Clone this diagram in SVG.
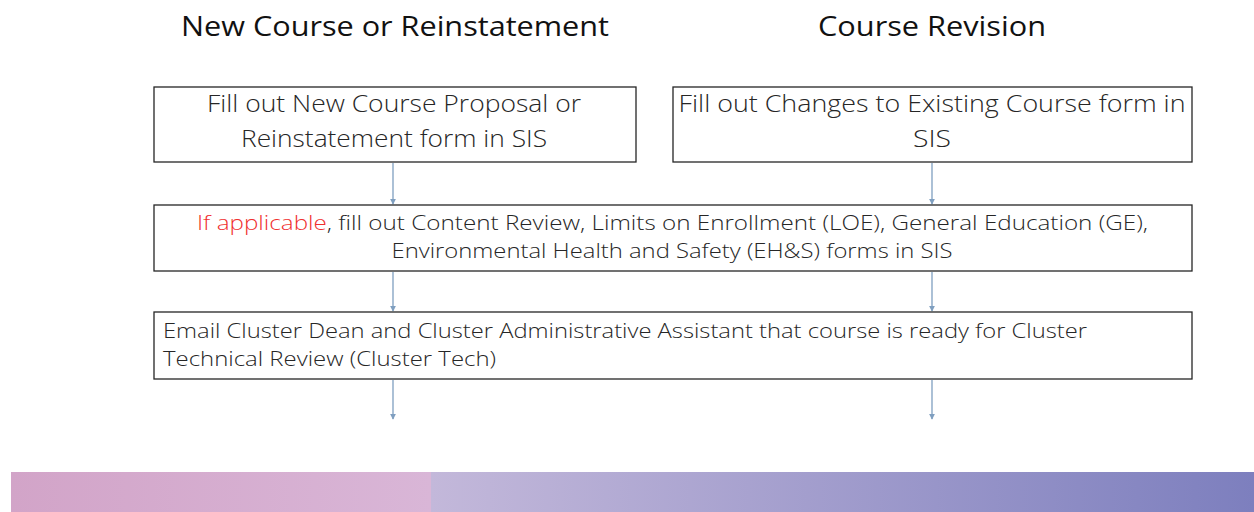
<svg xmlns="http://www.w3.org/2000/svg" width="1254" height="512" viewBox="0 0 1254 512">
<style>
.box{fill:#fff;stroke:#262626;stroke-width:1.3}
.t{font-family:"Open Sans","Liberation Sans",sans-serif;font-weight:300;fill:#262626}
.h{font-family:"Open Sans","Liberation Sans",sans-serif;font-size:28px;fill:#111}
.c{stroke:#7f9fc0;stroke-width:1.3;fill:none;marker-end:url(#ah)}
.red{fill:#f03030}
</style>
<defs>
<marker id="ah" viewBox="0 0 8 8" refX="7" refY="4" markerWidth="6" markerHeight="6" markerUnits="userSpaceOnUse" orient="auto">
<path d="M0,0 L8,4 L0,8 Z" fill="#7f9fc0"/>
</marker>
<linearGradient id="g1" x1="0" y1="0" x2="1" y2="0">
<stop offset="0" stop-color="#d2a4c8"/>
<stop offset="1" stop-color="#d9b6d7"/>
</linearGradient>
<linearGradient id="g2" x1="0" y1="0" x2="1" y2="0">
<stop offset="0" stop-color="#c3b8da"/>
<stop offset="1" stop-color="#7d7fbe"/>
</linearGradient>
</defs>
<rect width="1254" height="512" fill="#fff"/>
<text class="h" x="395" y="36" text-anchor="middle" textLength="428" lengthAdjust="spacingAndGlyphs">New Course or Reinstatement</text>
<text class="h" x="932" y="36" text-anchor="middle" textLength="228" lengthAdjust="spacingAndGlyphs">Course Revision</text>
<g id="connectors">
<path class="c" d="M393,163 V204"/>
<path class="c" d="M932,163 V204"/>
<path class="c" d="M393,272 V311"/>
<path class="c" d="M932,272 V311"/>
<path class="c" d="M393,380 V419"/>
<path class="c" d="M932,380 V419"/>
</g>
<g id="n1">
<rect class="box" x="154" y="87" width="482" height="75"/>
<text class="t" font-size="23" x="394" y="112" text-anchor="middle" textLength="374" lengthAdjust="spacingAndGlyphs">Fill out New Course Proposal or</text>
<text class="t" font-size="23" x="394" y="147" text-anchor="middle" textLength="306" lengthAdjust="spacingAndGlyphs">Reinstatement form in SIS</text>
</g>
<g id="n2">
<rect class="box" x="673" y="87" width="519" height="75"/>
<text class="t" font-size="23" x="932" y="112" text-anchor="middle" textLength="507" lengthAdjust="spacingAndGlyphs">Fill out Changes to Existing Course form in</text>
<text class="t" font-size="23" x="932" y="147" text-anchor="middle" textLength="38" lengthAdjust="spacingAndGlyphs">SIS</text>
</g>
<g id="n3">
<rect class="box" x="154" y="205" width="1038" height="66"/>
<text class="t" font-size="20" x="197" y="230" textLength="951" lengthAdjust="spacingAndGlyphs"><tspan class="red">If applicable</tspan>, fill out Content Review, Limits on Enrollment (LOE), General Education (GE),</text>
<text class="t" font-size="20" x="672" y="258" text-anchor="middle" textLength="561" lengthAdjust="spacingAndGlyphs">Environmental Health and Safety (EH&amp;S) forms in SIS</text>
</g>
<g id="n4">
<rect class="box" x="154" y="312" width="1038" height="67"/>
<text class="t" font-size="20" x="163" y="338" textLength="924" lengthAdjust="spacingAndGlyphs">Email Cluster Dean and Cluster Administrative Assistant that course is ready for Cluster</text>
<text class="t" font-size="20" x="163" y="366" textLength="333" lengthAdjust="spacingAndGlyphs">Technical Review (Cluster Tech)</text>
</g>
<rect x="11" y="472" width="420" height="40" fill="url(#g1)"/>
<rect x="431" y="472" width="823" height="40" fill="url(#g2)"/>
</svg>
